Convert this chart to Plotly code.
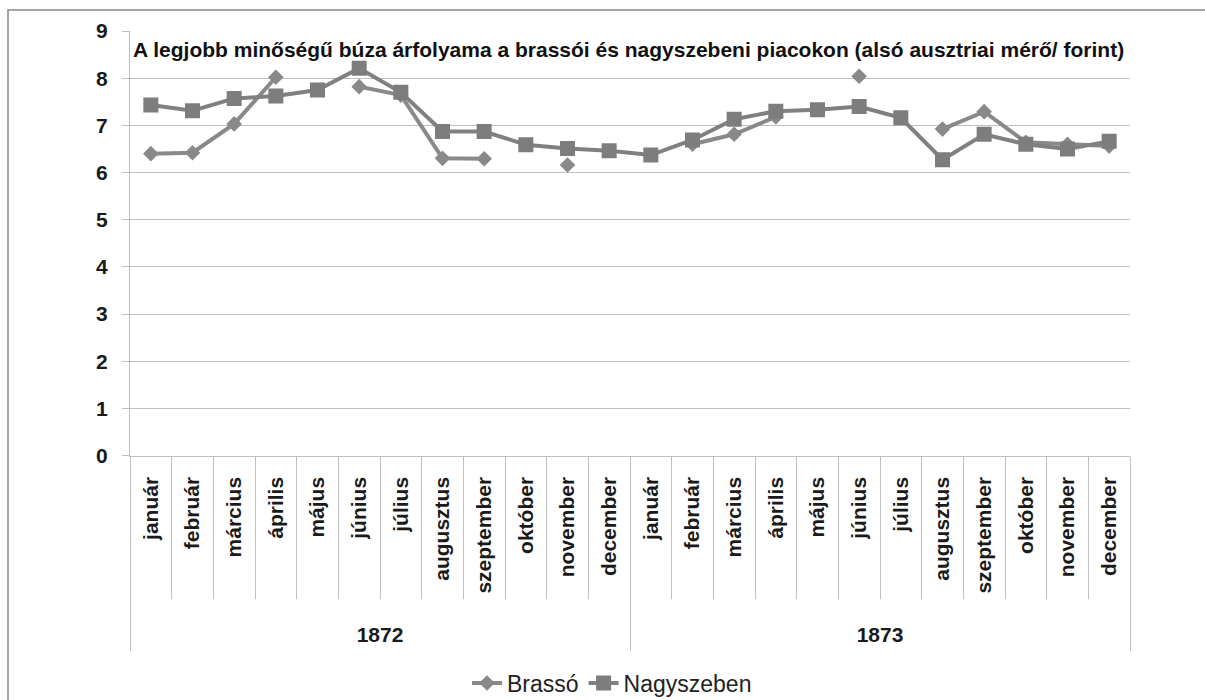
import plotly.graph_objects as go

years = ["1872", "1873"]
months = ["január", "február", "március", "április", "május", "június",
          "július", "augusztus", "szeptember", "október", "november", "december"]
month_labels = months * len(years)

brasso = [6.40, 6.42, 7.03, 8.02, None, 7.82, 7.64, 6.30, 6.29, None, 6.16, None,
          None, 6.60, 6.81, 7.18, None, 8.04, None, 6.92, 7.29, 6.64, 6.60, 6.56]
nagyszeben = [7.43, 7.31, 7.57, 7.62, 7.75, 8.21, 7.70, 6.87, 6.87, 6.59, 6.51, 6.46,
              6.37, 6.69, 7.13, 7.30, 7.33, 7.40, 7.16, 6.27, 6.81, 6.60, 6.50, 6.66]

title_text = "A legjobb minőségű búza árfolyama a brassói és nagyszebeni piacokon (alsó ausztriai mérő/ forint)"

FONT = "Liberation Sans, Arial, sans-serif"
GRID = "#bfbfbf"

n = len(month_labels)
xpos = list(range(n))
xr = [-0.5, n - 0.5]
boundaries = [i - 0.5 for i in range(n + 1)]
year_bounds = [i * 12 - 0.5 for i in range(len(years) + 1)]
year_centers = [i * 12 + 5.5 for i in range(len(years))]

W, H = 1205, 700
L, R, T, B = 130, 1130, 31, 458

fig = go.Figure()
fig.add_trace(go.Scatter(
    x=xpos, y=brasso, name="Brassó", mode="lines+markers",
    line=dict(color="#898989", width=4),
    marker=dict(symbol="diamond", size=12, color="#898989"),
    connectgaps=False,
))
fig.add_trace(go.Scatter(
    x=xpos, y=nagyszeben, name="Nagyszeben", mode="lines+markers",
    line=dict(color="#808080", width=4),
    marker=dict(symbol="square", size=15, color="#7d7d7d"),
    connectgaps=False,
))
# invisible helper traces so the overlaid category-divider axes are drawn
for ax in ["x2", "x3", "x4"]:
    fig.add_trace(go.Scatter(x=[xr[0], xr[1]], y=[None, None], xaxis=ax, yaxis="y",
                             mode="markers", marker=dict(opacity=0),
                             showlegend=False, hoverinfo="skip"))

fig.update_layout(
    width=W, height=H,
    margin=dict(l=L, r=W - R, t=T, b=H - B),
    paper_bgcolor="white", plot_bgcolor="white",
    font=dict(family=FONT, color="#1a1a1a"),
    title=dict(text="<b>" + title_text + "</b>", x=133 / W, xanchor="left",
               y=1 - 50 / H, yanchor="middle", yref="container",
               font=dict(family=FONT, size=21, color="#111111")),
    showlegend=True,
    legend=dict(orientation="h", x=612 / W, xanchor="center", y=1 - 683 / H,
                yanchor="middle", xref="container", yref="container",
                font=dict(family=FONT, size=23, color="#222222"),
                traceorder="normal"),
    xaxis=dict(
        range=xr, tickmode="array", tickvals=xpos, ticktext=month_labels,
        tickangle=-90, ticks="", showgrid=False, zeroline=False,
        showline=True, linecolor=GRID, linewidth=1,
        ticklabelstandoff=12,
        tickfont=dict(family=FONT, size=21, color="#1a1a1a", weight="bold"),
    ),
    xaxis2=dict(
        range=xr, overlaying="x", anchor="y", side="bottom",
        tickmode="array", tickvals=boundaries, showticklabels=False,
        ticks="outside", ticklen=142, tickcolor=GRID, tickwidth=1,
        showgrid=False, zeroline=False, showline=False,
    ),
    xaxis3=dict(
        range=xr, overlaying="x", anchor="y", side="bottom",
        tickmode="array", tickvals=year_bounds, showticklabels=False,
        ticks="outside", ticklen=194, tickcolor=GRID, tickwidth=1,
        showgrid=False, zeroline=False, showline=False,
    ),
    xaxis4=dict(
        range=xr, overlaying="x", anchor="y", side="bottom",
        tickmode="array", tickvals=year_centers, ticktext=years,
        ticks="outside", ticklen=160, tickcolor="rgba(0,0,0,0)",
        tickfont=dict(family=FONT, size=21, color="#1a1a1a", weight="bold"),
        showgrid=False, zeroline=False, showline=False,
    ),
    yaxis=dict(
        range=[0, 9], dtick=1, tick0=0,
        showgrid=True, gridcolor=GRID, gridwidth=1,
        showline=True, linecolor=GRID, linewidth=1,
        ticks="outside", ticklen=7, tickcolor=GRID,
        ticklabelstandoff=10,
        tickfont=dict(family=FONT, size=21, color="#1a1a1a", weight="bold"),
        zeroline=False,
    ),
)

fig.add_shape(type="rect", xref="paper", yref="paper",
              x0=(8 - L) / (R - L), x1=(1215 - L) / (R - L),
              y0=(B - 710) / (B - T), y1=(B - 10) / (B - T),
              line=dict(color="#888888", width=1.5), fillcolor="rgba(0,0,0,0)", layer="below")

fig.write_html("out.html", config={"displayModeBar": False},
               post_script="document.body.style.margin='0';document.body.style.overflow='hidden';")
